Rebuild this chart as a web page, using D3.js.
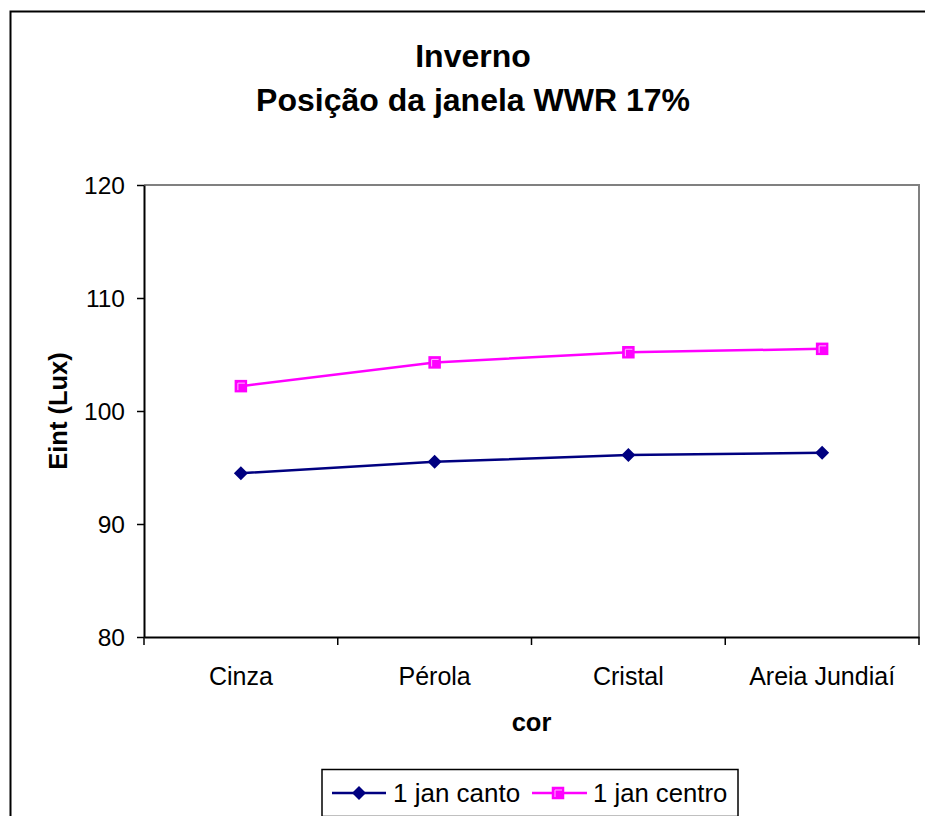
<!DOCTYPE html>
<html>
<head>
<meta charset="utf-8">
<script src="https://cdn.jsdelivr.net/npm/d3@7"></script>
<style>
  html, body { margin: 0; padding: 0; background: #fff; }
  svg { display: block; font-family: "Liberation Sans", Arial, sans-serif; }
</style>
</head>
<body>
<svg id="chart" width="925" height="816"></svg>
<script>
// Illuminance by glass colour, winter, WWR 17%
const categories = ["Cinza", "Pérola", "Cristal", "Areia Jundiaí"];
const cantoValues = [94.5, 95.5, 96.1, 96.3];
const centroValues = [102.2, 104.3, 105.2, 105.5];
const yTicks = [80, 90, 100, 110, 120];
const seriesNames = ["1 jan canto", "1 jan centro"];

const svg = d3.select("#chart");

// outer chart frame
svg.append("rect")
  .attr("x", 10.5).attr("y", 11.5)
  .attr("width", 940).attr("height", 830)
  .attr("fill", "#fff").attr("stroke", "#000").attr("stroke-width", 2);

const plot = { left: 144, top: 185, right: 919, bottom: 637 };

const x = d3.scaleBand().domain(categories).range([plot.left, plot.right]);
const y = d3.scaleLinear().domain([80, 120]).range([plot.bottom, plot.top]);

// plot area border (top and right in grey)
svg.append("path")
  .attr("d", `M${plot.left},${plot.top} H${plot.right} V${plot.bottom}`)
  .attr("fill", "none").attr("stroke", "#808080").attr("stroke-width", 2);

// title
const title = svg.append("text")
  .attr("text-anchor", "middle")
  .attr("font-weight", "bold").attr("font-size", 32);
title.append("tspan").attr("x", 473).attr("y", 67).text("Inverno");
title.append("tspan").attr("x", 473).attr("y", 111).text("Posição da janela WWR 17%");

// y axis
const yAxis = svg.append("g")
  .attr("transform", `translate(${plot.left},0)`)
  .call(d3.axisLeft(y).tickValues(yTicks).tickSize(7).tickPadding(12).tickSizeOuter(0));
yAxis.select(".domain").attr("stroke", "#000").attr("stroke-width", 2);
yAxis.selectAll(".tick line").attr("stroke", "#000").attr("stroke-width", 1.5);
yAxis.selectAll(".tick text")
  .attr("font-size", 24.5).attr("font-family", "'Liberation Sans', Arial, sans-serif")
  .attr("fill", "#000").attr("dy", "0.36em");

// x axis: ticks sit at category boundaries
const xAxis = svg.append("g")
  .attr("transform", `translate(0,${plot.bottom})`)
  .call(d3.axisBottom(x).tickSize(0).tickPadding(30).tickSizeOuter(0));
xAxis.select(".domain").attr("stroke", "#000").attr("stroke-width", 2);
xAxis.selectAll(".tick text")
  .attr("font-size", 25).attr("font-family", "'Liberation Sans', Arial, sans-serif")
  .attr("fill", "#000");
const boundaries = categories.map(c => x(c)).concat([x.range()[1]]);
xAxis.selectAll(".bound").data(boundaries).enter().append("line")
  .attr("class", "bound")
  .attr("x1", d => d).attr("x2", d => d)
  .attr("y1", 0).attr("y2", 8)
  .attr("stroke", "#000").attr("stroke-width", 1.5);

// axis titles
svg.append("text")
  .attr("x", (plot.left + plot.right) / 2).attr("y", 731)
  .attr("text-anchor", "middle").attr("font-weight", "bold").attr("font-size", 25.5)
  .text("cor");
svg.append("text")
  .attr("transform", `translate(67,${(plot.top + plot.bottom) / 2}) rotate(-90)`)
  .attr("text-anchor", "middle").attr("font-weight", "bold").attr("font-size", 25.5)
  .text("Eint (Lux)");

const cx = c => x(c) + x.bandwidth() / 2;
const line = d3.line().x((d, i) => cx(categories[i])).y(d => y(d));

// series lines
svg.append("path").datum(cantoValues)
  .attr("d", line).attr("fill", "none")
  .attr("stroke", "#000080").attr("stroke-width", 2.5);
svg.append("path").datum(centroValues)
  .attr("d", line).attr("fill", "none")
  .attr("stroke", "#FF00FF").attr("stroke-width", 2.5);

// markers
const diamond = (px, py, r) => `M${px},${py - r} L${px + r},${py} L${px},${py + r} L${px - r},${py} Z`;
function squareMarker(g, px, py) {
  g.append("rect")
    .attr("x", px - 5.5).attr("y", py - 5.5).attr("width", 11).attr("height", 11)
    .attr("fill", "#FF00FF").attr("stroke", "#FF00FF").attr("stroke-width", 1.5);
  g.append("path")
    .attr("d", `M${px - 3},${py + 4} V${py - 3} H${px + 4}`)
    .attr("fill", "none").attr("stroke", "#FFB8FF").attr("stroke-width", 1);
}

const mk = svg.append("g");
cantoValues.forEach((v, i) => {
  mk.append("path").attr("d", diamond(cx(categories[i]), y(v), 7)).attr("fill", "#000080");
});
centroValues.forEach((v, i) => squareMarker(mk, cx(categories[i]), y(v)));

// legend
const lg = svg.append("g");
lg.append("rect")
  .attr("x", 322).attr("y", 769.5).attr("width", 416).attr("height", 47)
  .attr("fill", "#fff").attr("stroke", "#000").attr("stroke-width", 1.5);
const ly = 793;
lg.append("line").attr("x1", 332).attr("x2", 386).attr("y1", ly).attr("y2", ly)
  .attr("stroke", "#000080").attr("stroke-width", 2.5);
lg.append("path").attr("d", diamond(359, ly, 7)).attr("fill", "#000080");
lg.append("text").attr("x", 393).attr("y", ly + 9).attr("font-size", 26).text(seriesNames[0]);
lg.append("line").attr("x1", 532).attr("x2", 587).attr("y1", ly).attr("y2", ly)
  .attr("stroke", "#FF00FF").attr("stroke-width", 2.5);
squareMarker(lg, 558, ly);
lg.append("text").attr("x", 593).attr("y", ly + 9).attr("font-size", 25.7).text(seriesNames[1]);
</script>
</body>
</html>
